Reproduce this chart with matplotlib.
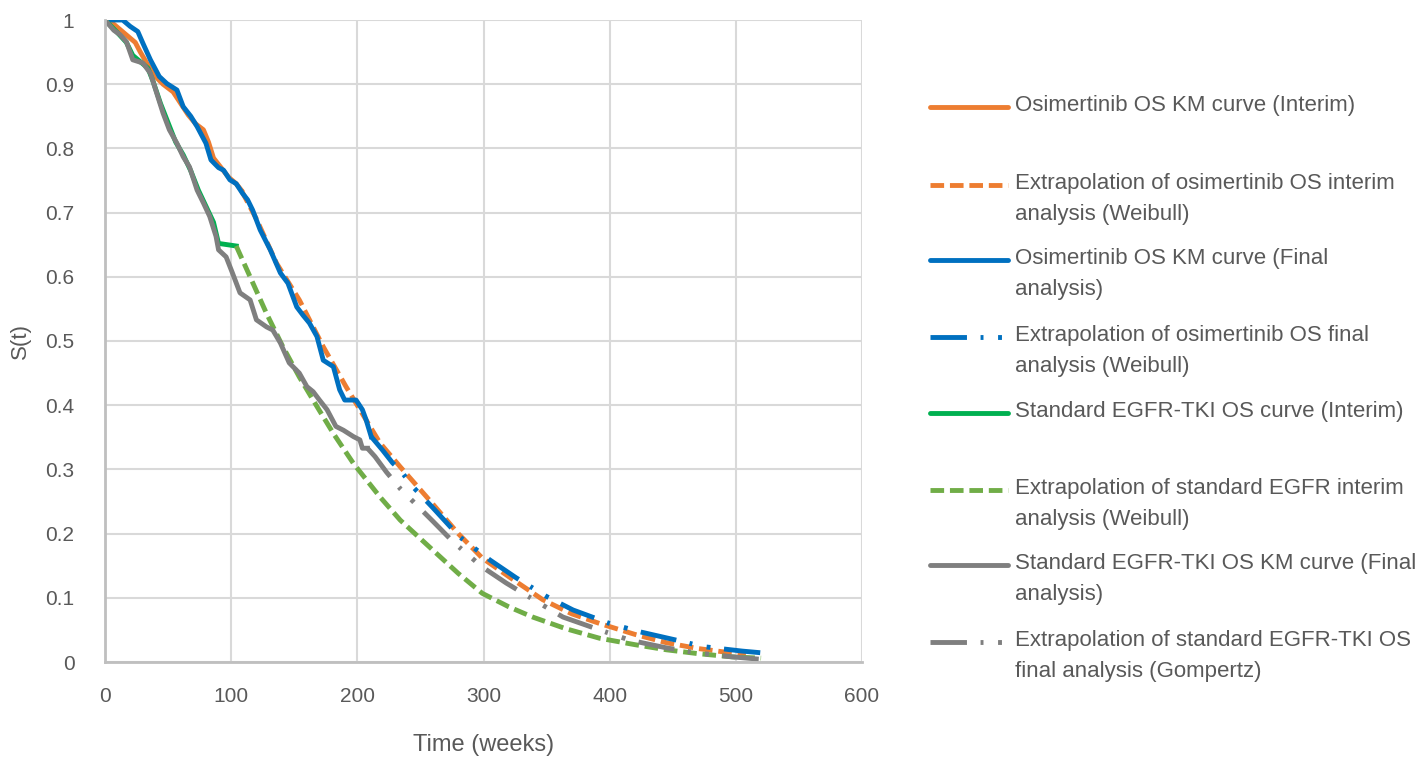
import matplotlib.pyplot as plt
from matplotlib.lines import Line2D

# --- data (weeks, S(t)) ---
osi_int_wk = [0, 6, 12, 18, 24, 28, 34, 40, 46, 54, 60, 66, 72, 78, 82, 86, 92, 98, 104, 108]
osi_int_s = [1.0, 0.995, 0.985, 0.975, 0.965, 0.95, 0.93, 0.912, 0.9, 0.888, 0.87, 0.852,
             0.838, 0.829, 0.81, 0.785, 0.77, 0.755, 0.745, 0.735]

osi_int_ext_wk = [108, 120, 136, 154, 173, 191, 218, 234, 255, 280, 299, 320, 347, 370, 392,
                  420, 445, 470, 497, 508]
osi_int_ext_s = [0.735, 0.69, 0.621, 0.564, 0.491, 0.429, 0.341, 0.304, 0.257, 0.2, 0.162,
                 0.133, 0.097, 0.075, 0.06, 0.043, 0.03, 0.021, 0.014, 0.012]

osi_fin_wk = [0, 14, 20, 26, 30, 36, 43, 49, 57, 62, 68, 73, 80, 84, 90, 94, 99, 104, 109,
              113, 117, 123, 131, 139, 145, 152, 157, 162, 168, 173, 181, 186, 190, 199, 204,
              207, 211]
osi_fin_s = [1.0, 1.0, 0.99, 0.982, 0.964, 0.938, 0.912, 0.901, 0.891, 0.865, 0.85, 0.834,
             0.808, 0.782, 0.77, 0.766, 0.751, 0.745, 0.73, 0.72, 0.704, 0.673, 0.642, 0.606,
             0.59, 0.553, 0.54, 0.528, 0.507, 0.47, 0.46, 0.424, 0.408, 0.408, 0.393, 0.377,
             0.351]

osi_fin_ext_wk = [211, 220, 228, 234, 244, 260, 281, 305, 326, 350, 371, 400, 424, 453, 474,
                  505, 522]
osi_fin_ext_s = [0.351, 0.33, 0.31, 0.299, 0.273, 0.24, 0.195, 0.159, 0.131, 0.102, 0.081,
                 0.06, 0.047, 0.034, 0.024, 0.017, 0.014]

std_int_wk = [0, 5, 10, 17, 22, 28, 34, 38, 44, 50, 56, 62, 68, 74, 80, 86, 90, 104]
std_int_s = [1.0, 0.99, 0.98, 0.965, 0.945, 0.935, 0.925, 0.905, 0.87, 0.84, 0.81, 0.79,
             0.765, 0.735, 0.71, 0.685, 0.652, 0.648]

std_int_ext_wk = [104, 115, 128, 141, 154, 168, 181, 197, 218, 234, 260, 280, 299, 320, 339,
                  365, 392, 420, 445, 470, 497, 520]
std_int_ext_s = [0.648, 0.6, 0.543, 0.491, 0.444, 0.398, 0.356, 0.309, 0.257, 0.221, 0.174,
                 0.138, 0.107, 0.086, 0.07, 0.052, 0.037, 0.027, 0.019, 0.013, 0.008, 0.006]

std_fin_wk = [0, 7, 12, 17, 22, 30, 36, 41, 46, 51, 57, 62, 67, 73, 78, 83, 88, 90, 96, 101,
              107, 115, 120, 128, 133, 139, 146, 154, 160, 165, 170, 176, 183, 189, 197, 202,
              204, 208]
std_fin_s = [1.0, 0.984, 0.977, 0.966, 0.938, 0.933, 0.917, 0.886, 0.855, 0.829, 0.808,
             0.787, 0.771, 0.735, 0.715, 0.694, 0.663, 0.642, 0.631, 0.606, 0.575, 0.564,
             0.533, 0.522, 0.517, 0.497, 0.466, 0.45, 0.429, 0.421, 0.408, 0.393, 0.367,
             0.361, 0.351, 0.346, 0.333, 0.333]

std_fin_ext_wk = [208, 214, 223, 234, 260, 276, 299, 318, 344, 363, 392, 416, 445, 468, 497,
                  521]
std_fin_ext_s = [0.333, 0.32, 0.296, 0.27, 0.219, 0.187, 0.148, 0.123, 0.092, 0.07, 0.05,
                 0.034, 0.022, 0.0145, 0.008, 0.004]

labels = [
    'Osimertinib OS KM curve (Interim)',
    'Extrapolation of osimertinib OS interim\nanalysis (Weibull)',
    'Osimertinib OS KM curve (Final\nanalysis)',
    'Extrapolation of osimertinib OS final\nanalysis (Weibull)',
    'Standard EGFR-TKI OS curve (Interim)',
    'Extrapolation of standard EGFR interim\nanalysis (Weibull)',
    'Standard EGFR-TKI OS KM curve (Final\nanalysis)',
    'Extrapolation of standard EGFR-TKI OS\nfinal analysis (Gompertz)',
]

ORANGE = '#ED7D31'
BLUE = '#0070C0'
GREEN = '#00B050'
LGREEN = '#70AD47'
GREY = '#7F7F7F'

plt.rcParams['font.family'] = ['Liberation Sans', 'DejaVu Sans']

W, H = 1420, 758
fig = plt.figure(figsize=(W / 100, H / 100), dpi=100)
ax = fig.add_axes([105 / W, 1 - 662 / H, (862 - 105) / W, (662 - 20) / H])

lw = 3.5
dash = (2.8, 1.2)
dashdotdot = (7.5, 2.8, 0.6, 3.0, 0.8, 2.8)

styles = [
    dict(color=ORANGE, ls='-'),
    dict(color=ORANGE, ls=(0, dash)),
    dict(color=BLUE, ls='-'),
    dict(color=BLUE, ls=(0, dashdotdot)),
    dict(color=GREEN, ls='-'),
    dict(color=LGREEN, ls=(0, dash)),
    dict(color=GREY, ls='-'),
    dict(color=GREY, ls=(0, dashdotdot)),
]
series = [
    (osi_int_wk, osi_int_s), (osi_int_ext_wk, osi_int_ext_s),
    (osi_fin_wk, osi_fin_s), (osi_fin_ext_wk, osi_fin_ext_s),
    (std_int_wk, std_int_s), (std_int_ext_wk, std_int_ext_s),
    (std_fin_wk, std_fin_s), (std_fin_ext_wk, std_fin_ext_s),
]
for (x, y), st in zip(series, styles):
    ax.plot(x, y, lw=lw, solid_joinstyle='round', **st)

ax.set_xlim(0, 600)
ax.set_ylim(0, 1)
ax.set_xticks(range(0, 601, 100))
ax.set_yticks([i / 10 for i in range(11)])
ax.set_yticklabels(['0'] + [f'{i / 10:.1f}' for i in range(1, 10)] + ['1'])
ax.grid(True, color='#D9D9D9', lw=1.5)
ax.set_axisbelow(True)
for s in ['top', 'right']:
    ax.spines[s].set_visible(False)
for s in ['left', 'bottom']:
    ax.spines[s].set_color('#BFBFBF')
    ax.spines[s].set_linewidth(2)
ax.tick_params(axis='y', length=0, labelsize=15, labelcolor='#595959', pad=22)
ax.tick_params(axis='x', length=0, labelsize=15, labelcolor='#595959', pad=18)
ax.set_xlabel('Time (weeks)', fontsize=17, color='#595959', labelpad=20)
ax.set_ylabel('S(t)', fontsize=16, color='#595959', labelpad=10)

# legend drawn by hand so the handle sits on the first text line
entry_y = [107, 185, 260, 337, 413, 490, 565, 642]
for y, lab, st in zip(entry_y, labels, styles):
    fy = 1 - y / H
    fig.add_artist(Line2D([930 / W, 1008 / W], [fy, fy], transform=fig.transFigure,
                          lw=lw, solid_capstyle='round', **st))
    fig.text(1015 / W, fy + 12 / H, lab, fontsize=16, color='#595959', va='top',
             linespacing=1.6)

fig.savefig('out.png', dpi=100)
